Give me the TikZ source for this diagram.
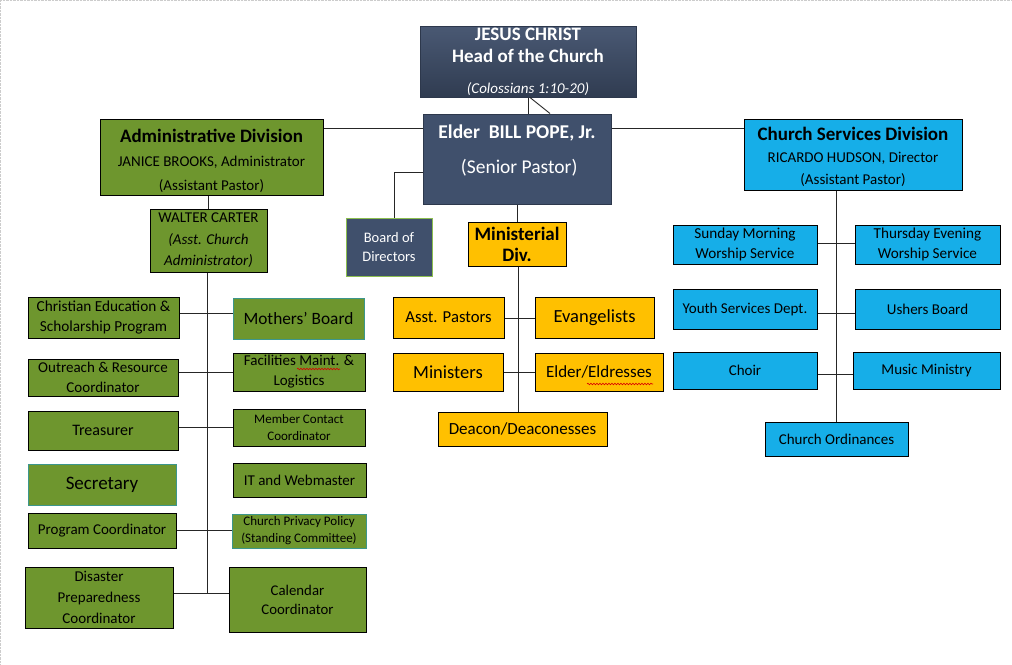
\documentclass[tikz,border=0pt]{standalone}
\usepackage{fontspec}
\setmainfont{Carlito}
\usetikzlibrary{decorations.pathmorphing}

\definecolor{admgreen}{RGB}{110,150,46}
\definecolor{svcblue}{RGB}{22,174,232}
\definecolor{mingold}{RGB}{255,192,0}
\definecolor{slate}{RGB}{64,80,108}
\definecolor{tealedge}{RGB}{60,150,140}
\definecolor{boardedge}{RGB}{140,190,80}

\newcommand{\fs}[1]{\fontsize{#1}{#1}\selectfont}
\newcommand{\lead}[1]{\fontsize{10}{#1}\selectfont}

\begin{document}
\begin{tikzpicture}[x=1pt,y=-1pt,
    box/.style={draw=black, line width=1pt, align=center, inner sep=1pt},
    adm/.style={box, fill=admgreen},
    svc/.style={box, fill=svcblue},
    mins/.style={box, fill=mingold},
    head/.style={box, draw=slate!70!black, fill=slate, text=white},
    link/.style={draw=black!85, line width=0.9pt},
    squig/.style={draw=red!85!black, line width=0.6pt,
        decorate, decoration={snake, amplitude=0.8pt, segment length=3pt}}]
    \useasboundingbox (0,0) rectangle (1012,664);
    \draw[black!20, densely dotted] (0,0.5) -- (1012,0.5) (0.5,0) -- (0.5,664);

    % top of the chart
    \node[head, font=\lead{22}, minimum width=216, minimum height=71,
        top color=slate!95!white, bottom color=slate!75!black] (jesus) at (528,61.5)
        {\fs{19}\bfseries JESUS CHRIST\\
         \fs{19}\bfseries Head of the Church\\[9pt]
         \fs{15}\itshape (Colossians 1:10-20)};
    \node[head, font=\lead{35}, minimum width=188, minimum height=90] (pope) at (517,159)
        {\fs{19.5}\bfseries Elder\ \ BILL POPE, Jr.\\
         \fs{19.5} (Senior Pastor)\\[-16pt]};
    \node[head, draw=boardedge, font=\lead{19}, minimum width=86, minimum height=58] (board) at (389,247)
        {\fs{14.5}Board of\\\fs{14.5}Directors};

    % divisions
    \node[adm, font=\lead{24}, minimum width=223, minimum height=76] (admin) at (211.5,157)
        {\rule{0pt}{21pt}\fs{19}\bfseries Administrative Division\\
         \fs{15}JANICE BROOKS, Administrator\\
         \fs{15}(Assistant Pastor)};
    \node[svc, font=\lead{22}, minimum width=218, minimum height=71] (churchsvc) at (853,154.5)
        {\rule{0pt}{19pt}\fs{19}\bfseries Church Services Division\\
         \fs{15}RICARDO HUDSON, Director\\
         \fs{15}(Assistant Pastor)};
    \node[mins, font=\lead{21}, minimum width=98, minimum height=44] (ministerial) at (517,244)
        {\fs{19}\bfseries Ministerial\\\fs{19}\bfseries Div.};

    % administrative division
    \node[adm, font=\lead{21.5}, minimum width=117, minimum height=63] (walter) at (208.5,240.5)
        {\fs{15}WALTER CARTER\\
         \fs{15}\itshape (Asst. Church\\
         \fs{15}\itshape Administrator)};
    \node[adm, font=\lead{20}, minimum width=151, minimum height=41] (chred) at (103.5,317.5)
        {\fs{15.3}Christian Education \&\\\fs{15.3}Scholarship Program};
    \node[adm, draw=tealedge, minimum width=131, minimum height=41] (mothers) at (298.5,318.5)
        {\fs{17.3}Mothers’ Board};
    \node[adm, font=\lead{20}, minimum width=150, minimum height=37] (outreach) at (103,377.5)
        {\fs{15}Outreach \& Resource\\\fs{15}Coordinator};
    \node[adm, font=\lead{20}, minimum width=132, minimum height=38] (facilities) at (299,372)
        {\fs{15}Facilities Maint. \&\\\fs{15}Logistics};
    \node[adm, minimum width=150, minimum height=39] (treasurer) at (103,430.5)
        {\fs{16}Treasurer};
    \node[adm, font=\lead{17}, minimum width=132, minimum height=37] (member) at (299,427.5)
        {\fs{13}Member Contact\\\fs{13}Coordinator};
    \node[adm, draw=tealedge, minimum width=148, minimum height=41] (secretary) at (102,484.5)
        {\fs{19}Secretary};
    \node[adm, minimum width=133, minimum height=34] (itweb) at (299.5,480)
        {\fs{15}IT and Webmaster};
    \node[adm, minimum width=148, minimum height=35] (program) at (102,530.5)
        {\fs{15}Program Coordinator};
    \node[adm, draw=tealedge, font=\lead{17}, minimum width=134, minimum height=34] (privacy) at (299,531)
        {\fs{13}Church Privacy Policy\\\fs{13}(Standing Committee)};
    \node[adm, font=\lead{21}, minimum width=148, minimum height=61] (disaster) at (99,597.5)
        {\fs{15}Disaster\\\fs{15}Preparedness\\\fs{15}Coordinator};
    \node[adm, font=\lead{19}, minimum width=137, minimum height=65] (calendar) at (297.5,599.5)
        {\fs{14.8}Calendar\\\fs{14.8}Coordinator};

    % ministerial division
    \node[mins, minimum width=111, minimum height=41] (asstpastors) at (448.5,317.5)
        {\fs{16.7}Asst. Pastors};
    \node[mins, minimum width=119, minimum height=41] (evangelists) at (594.5,317.5)
        {\fs{18.5}Evangelists};
    \node[mins, minimum width=110, minimum height=38] (ministers) at (448,372)
        {\fs{18.5}Ministers};
    \node[mins, minimum width=128, minimum height=38] (elders) at (599,372)
        {\fs{17}Elder/Eldresses};
    \node[mins, minimum width=169, minimum height=34] (deacons) at (522.5,429)
        {\fs{17}Deacon/Deaconesses};

    % church services division
    \node[svc, font=\lead{20}, minimum width=144, minimum height=39] (sunday) at (745,244.5)
        {\fs{15.2}Sunday Morning\\\fs{15.2}Worship Service};
    \node[svc, font=\lead{20}, minimum width=145, minimum height=39] (thursday) at (927.5,244.5)
        {\fs{15.2}Thursday Evening\\\fs{15.2}Worship Service};
    \node[svc, minimum width=144, minimum height=40] (youth) at (745,309)
        {\fs{15}Youth Services Dept.};
    \node[svc, minimum width=145, minimum height=40] (ushers) at (927.5,309)
        {\fs{15}Ushers Board};
    \node[svc, minimum width=144, minimum height=37] (choir) at (745,370.5)
        {\fs{15}Choir};
    \node[svc, minimum width=147, minimum height=37] (music) at (926.5,370.5)
        {\fs{15}Music Ministry};
    \node[svc, minimum width=143, minimum height=34] (ordinances) at (836.5,439)
        {\fs{15}Church Ordinances};

    % spell-check marks
    \draw[squig] (297,369) -- (340,369);
    \draw[squig] (587,384) -- (653,384);

    % connectors
    \coordinate (admend) at (207,593);
    \coordinate (minend) at (518,412);
    \coordinate (svcend) at (836,422);

    \draw[link] (jesus.south -| 528,0) to (pope.north -| 528,0);
    \draw[link] (jesus.south -| 530,0) to (pope.north -| 550,0);
    \draw[link] (admin.east |- 0,128) to (pope.west |- 0,128);
    \draw[link] (pope.east |- 0,128) to (churchsvc.west |- 0,128);
    \draw[link] (pope.west |- 0,172) -| (board.north -| 394,0);
    \draw[link] (pope.south -| 517,0) to (ministerial.north -| 517,0);

    \draw[link] (admin.south -| 208,0) to (walter.north -| 208,0);
    \draw[link] (walter.south -| 207,0) to (admend);
    \draw[link] (chred.east |- 0,313) to (mothers.west |- 0,313);
    \draw[link] (outreach.east |- 0,372) to (facilities.west |- 0,372);
    \draw[link] (treasurer.east |- 0,427) to (member.west |- 0,427);
    \draw[link] (program.east |- 0,530) to (privacy.west |- 0,530);
    \draw[link] (disaster.east |- admend) to (calendar.west |- admend);

    \draw[link] (ministerial.south -| minend) to (minend);
    \draw[link] (asstpastors.east |- 0,318) to (evangelists.west |- 0,318);
    \draw[link] (ministers.east |- 0,372) to (elders.west |- 0,372);

    \draw[link] (churchsvc.south -| svcend) to (svcend);
    \draw[link] (sunday.east |- 0,243) to (thursday.west |- 0,243);
    \draw[link] (youth.east |- 0,313) to (ushers.west |- 0,313);
    \draw[link] (choir.east |- 0,374) to (music.west |- 0,374);
\end{tikzpicture}
\end{document}
